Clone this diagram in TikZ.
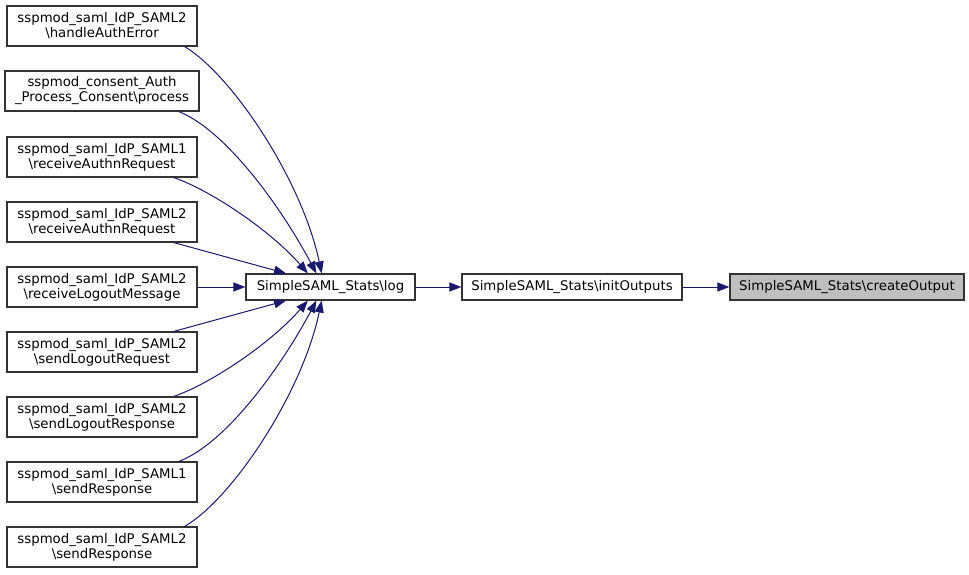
\documentclass[tikz,border=0pt]{standalone}
\usepackage{fontspec}
\setmainfont{DejaVu Sans}
\usetikzlibrary{arrows.meta}
\newcommand{\bsl}{\textbackslash}
\definecolor{edgeblue}{RGB}{25,25,112}

\tikzset{
  fn/.style={draw=black!80, line width=1.2pt, fill=white, inner sep=0pt, align=center,
    minimum width=190pt, minimum height=40pt, font=\fontsize{13.3}{15}\selectfont},
  fnsmall/.style={fn, minimum height=26pt},
  call/.style={edgeblue, line width=1pt, -{Triangle[length=12pt,width=9pt]}}
}

\begin{document}
\begin{tikzpicture}[x=1pt,y=-1pt]
\useasboundingbox (0,0) rectangle (969,575);
% callers
\node[fn] (handleauth) at (102,26) {sspmod\_saml\_IdP\_SAML2\\\bsl handleAuthError};
\node[fn,minimum width=194pt] (consent) at (102,91) {sspmod\_consent\_Auth\\\_Process\_Consent\bsl process};
\node[fn] (recvauthone) at (102,157) {sspmod\_saml\_IdP\_SAML1\\\bsl receiveAuthnRequest};
\node[fn] (recvauthtwo) at (102,222) {sspmod\_saml\_IdP\_SAML2\\\bsl receiveAuthnRequest};
\node[fn] (recvlogout) at (102,287) {sspmod\_saml\_IdP\_SAML2\\\bsl receiveLogoutMessage};
\node[fn] (sendlogoutreq) at (102,352) {sspmod\_saml\_IdP\_SAML2\\\bsl sendLogoutRequest};
\node[fn] (sendlogoutresp) at (102,417) {sspmod\_saml\_IdP\_SAML2\\\bsl sendLogoutResponse};
\node[fn] (sendrespone) at (102,482) {sspmod\_saml\_IdP\_SAML1\\\bsl sendResponse};
\node[fn] (sendresptwo) at (102,547) {sspmod\_saml\_IdP\_SAML2\\\bsl sendResponse};
% chain
\node[fnsmall,minimum width=169pt] (statslog) at (330.5,287) {SimpleSAML\_Stats\bsl log};
\node[fnsmall,minimum width=220pt] (initout) at (572,287) {SimpleSAML\_Stats\bsl initOutputs};
\node[fnsmall,minimum width=234pt,fill=black!25] (createout) at (847,287) {SimpleSAML\_Stats\bsl createOutput};

\draw[call] (handleauth.-14) .. controls (232,75) and (302,180) .. (statslog.123);
\draw[call] (consent.-15) .. controls (225,130) and (280,205) .. (statslog.136);
\draw[call] (recvauthone.-16) .. controls (210,190) and (270,230) .. (statslog.149);
\draw[call] (recvauthtwo.-16) -- (statslog.163);
\draw[call] (recvlogout) -- (statslog);
\draw[call] (sendlogoutreq.16) -- (statslog.-163);
\draw[call] (sendlogoutresp.16) .. controls (210,384) and (270,344) .. (statslog.-149);
\draw[call] (sendrespone.15) .. controls (225,444) and (280,369) .. (statslog.-136);
\draw[call] (sendresptwo.14) .. controls (232,499) and (302,394) .. (statslog.-123);
\draw[call] (statslog) -- (initout);
\draw[call] (initout) -- (createout);
\end{tikzpicture}
\end{document}
